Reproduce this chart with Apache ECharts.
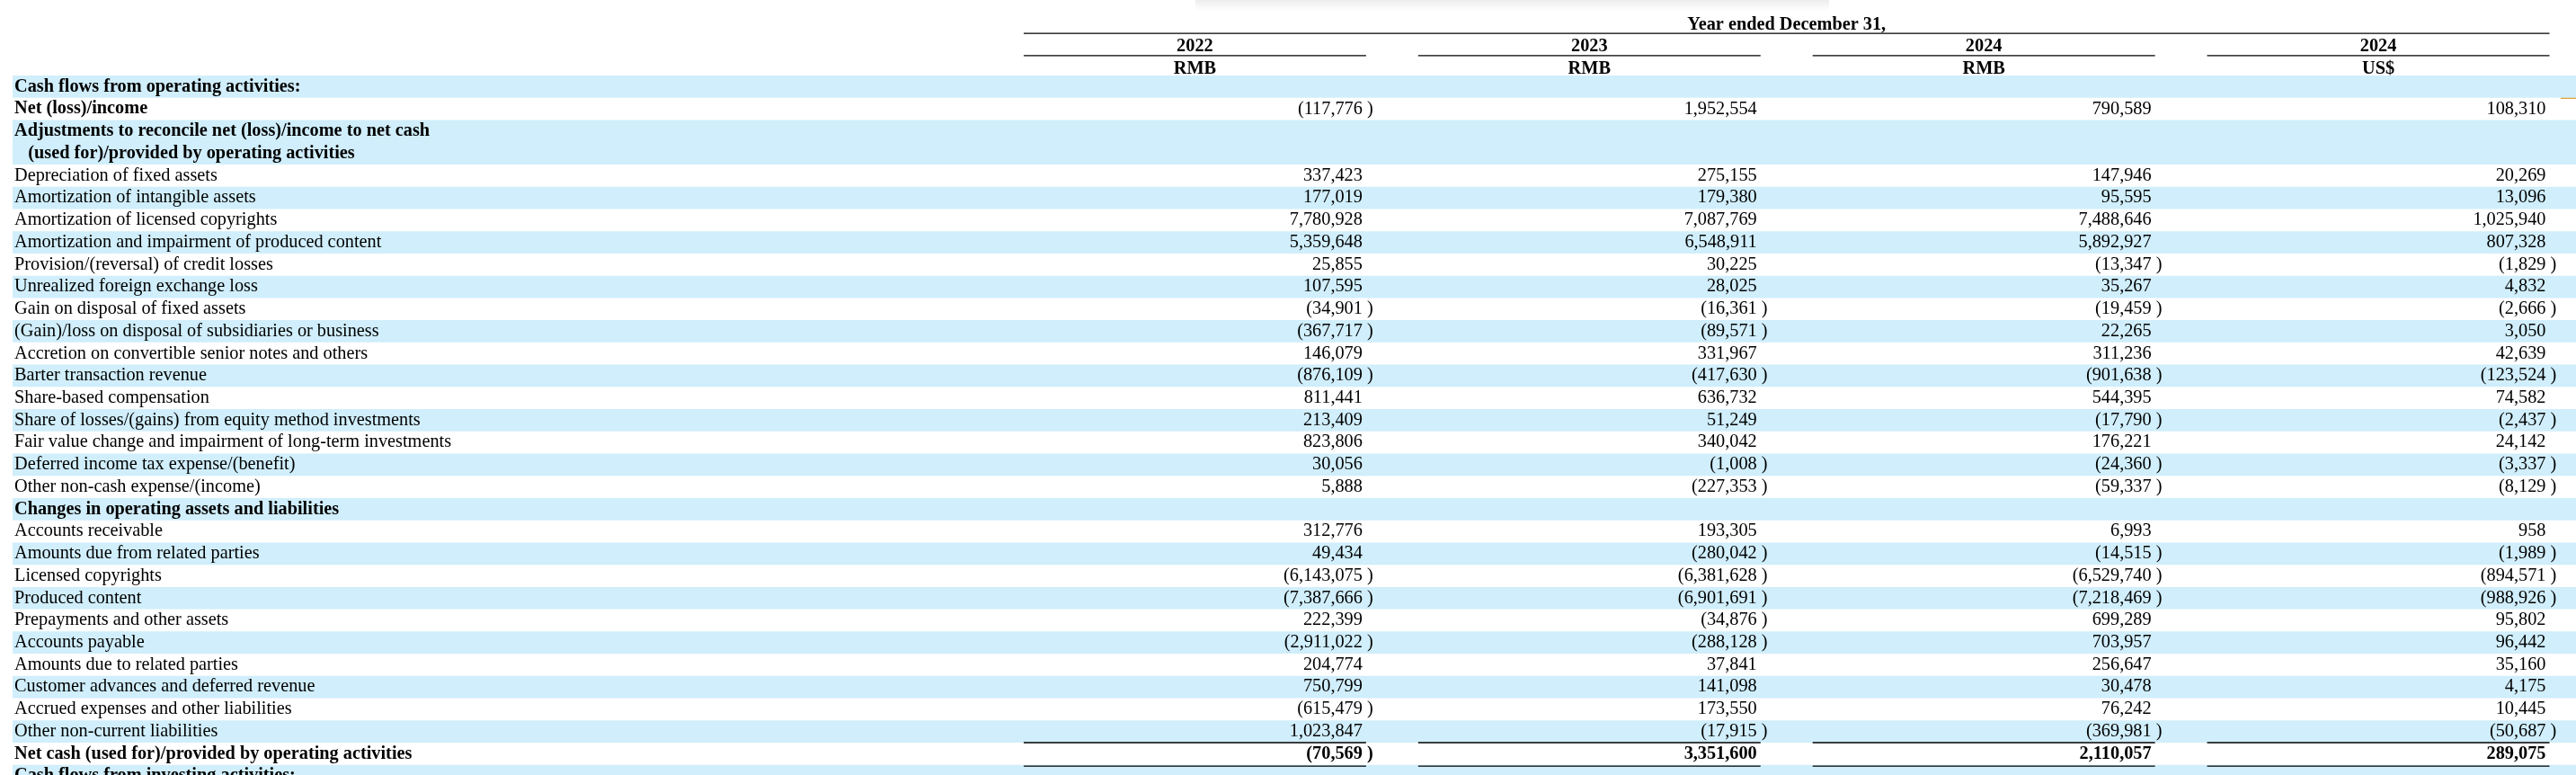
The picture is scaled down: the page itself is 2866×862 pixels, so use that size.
<!DOCTYPE html>
<html>
<head>
<meta charset="utf-8">
<title>Cash flows from operating activities</title>
<script src="https://cdn.jsdelivr.net/npm/echarts@6/dist/echarts.min.js"></script>
<style>
html, body { margin: 0; padding: 0; background: #fff; }
#main { width: 2866px; height: 862px; }
</style>
</head>
<body>
<div id="main"></div>
<script>
// table content, one entry per printed line
var rowLabels = [
	'Cash flows from operating activities:',
	'Net (loss)/income',
	'Adjustments to reconcile net (loss)/income to net cash',
	'   (used for)/provided by operating activities',
	'Depreciation of fixed assets',
	'Amortization of intangible assets',
	'Amortization of licensed copyrights',
	'Amortization and impairment of produced content',
	'Provision/(reversal) of credit losses',
	'Unrealized foreign exchange loss',
	'Gain on disposal of fixed assets',
	'(Gain)/loss on disposal of subsidiaries or business',
	'Accretion on convertible senior notes and others',
	'Barter transaction revenue',
	'Share-based compensation',
	'Share of losses/(gains) from equity method investments',
	'Fair value change and impairment of long-term investments',
	'Deferred income tax expense/(benefit)',
	'Other non-cash expense/(income)',
	'Changes in operating assets and liabilities',
	'Accounts receivable',
	'Amounts due from related parties',
	'Licensed copyrights',
	'Produced content',
	'Prepayments and other assets',
	'Accounts payable',
	'Amounts due to related parties',
	'Customer advances and deferred revenue',
	'Accrued expenses and other liabilities',
	'Other non-current liabilities',
	'Net cash (used for)/provided by operating activities',
	'Cash flows from investing activities:'
];
var boldRows = [
	'Cash flows from operating activities:',
	'Net (loss)/income',
	'Adjustments to reconcile net (loss)/income to net cash',
	'   (used for)/provided by operating activities',
	'Changes in operating assets and liabilities',
	'Net cash (used for)/provided by operating activities',
	'Cash flows from investing activities:'
];
var totalRows = [ 'Net cash (used for)/provided by operating activities' ];

var headerTitle = 'Year ended December 31,';
var columnYears = [ '2022', '2023', '2024', '2024' ];
var columnUnits = [ 'RMB', 'RMB', 'RMB', 'US$' ];

// values in thousands, negatives shown in parentheses
var rmb2022 = [ null, -117776, null, null, 337423, 177019, 7780928, 5359648, 25855, 107595,
	-34901, -367717, 146079, -876109, 811441, 213409, 823806, 30056, 5888, null,
	312776, 49434, -6143075, -7387666, 222399, -2911022, 204774, 750799, -615479, 1023847,
	-70569, null ];
var rmb2023 = [ null, 1952554, null, null, 275155, 179380, 7087769, 6548911, 30225, 28025,
	-16361, -89571, 331967, -417630, 636732, 51249, 340042, -1008, -227353, null,
	193305, -280042, -6381628, -6901691, -34876, -288128, 37841, 141098, 173550, -17915,
	3351600, null ];
var rmb2024 = [ null, 790589, null, null, 147946, 95595, 7488646, 5892927, -13347, 35267,
	-19459, 22265, 311236, -901638, 544395, -17790, 176221, -24360, -59337, null,
	6993, -14515, -6529740, -7218469, 699289, 703957, 256647, 30478, 76242, -369981,
	2110057, null ];
var usd2024 = [ null, 108310, null, null, 20269, 13096, 1025940, 807328, -1829, 4832,
	-2666, 3050, 42639, -123524, 74582, -2437, 24142, -3337, -8129, null,
	958, -1989, -894571, -988926, 95802, 96442, 35160, 4175, 10445, -50687,
	289075, null ];

var FONT = '"Liberation Serif", "Times New Roman", Times, serif';
var FONT_SIZE = 20.3;
var BAND = '#d0eefb';
var HEAD = 3; // header lines above the body rows
var LINE_RATIO = 0.868; // underline length / column width

var columns = [ rmb2022, rmb2023, rmb2024, usd2024 ];
var columnKeys = columnYears.map(function(y, i) { return y + ' ' + columnUnits[i]; });
var allRows = [ 'hdr-title', 'hdr-year', 'hdr-unit' ].concat(rowLabels);

// shaded bands, a wrapped line belongs to the row above it
var bandData = [];
var bandCount = -1;
rowLabels.forEach(function(label, i) {
	if (/^\s/.test(label)) {
		var last = bandData[bandData.length - 1];
		if (last && last[3] === bandCount) last[2] += 1;
		return;
	}
	bandCount++;
	if (bandCount % 2 === 0) bandData.push([ 0, i + HEAD, 1, bandCount ]);
});

var valueData = [];
columns.forEach(function(col, c) {
	col.forEach(function(v, r) {
		if (v !== null) valueData.push([ c, r + HEAD, v ]);
	});
});

var headerData = [ [ 0, 0 ] ];
columnYears.forEach(function(y, c) { headerData.push([ c, 1 ]); });
columnUnits.forEach(function(u, c) { headerData.push([ c, 2 ]); });

function fmt(n) {
	return Math.abs(n).toLocaleString('en-US');
}

function textEl(x, y, text, align, bold) {
	return {
		type : 'text',
		x : x,
		y : y,
		style : {
			text : text,
			align : align,
			verticalAlign : 'middle',
			fontFamily : FONT,
			fontSize : FONT_SIZE,
			fontWeight : bold ? 'bold' : 'normal',
			fill : '#000'
		}
	};
}

function lineEl(x1, x2, y) {
	return {
		type : 'line',
		shape : { x1 : x1, y1 : y, x2 : x2, y2 : y },
		style : { stroke : '#000', lineWidth : 1.3 }
	};
}

function renderBand(params, api) {
	var h = api.size([ 0, 1 ])[1];
	var y = api.coord([ 0, api.value(1) ])[1] - h / 2;
	return {
		type : 'rect',
		shape : { x : params.coordSys.x, y : y, width : params.coordSys.width, height : h * api.value(2) },
		style : { fill : BAND }
	};
}

function renderHeader(params, api) {
	var c = api.value(0), r = api.value(1);
	var size = api.size([ 1, 1 ]);
	var bw = size[0], rh = size[1];
	var p = api.coord([ c, r ]);
	var right = p[0] + bw / 2;
	var left = right - bw * LINE_RATIO;
	var ty = p[1] + 5;
	var ly = p[1] + rh / 2 + 2.5;
	if (r === 0) {
		var farRight = api.coord([ columnKeys.length - 1, r ])[0] + bw / 2;
		return { type : 'group', children : [
			textEl((left + farRight) / 2, ty, headerTitle, 'center', true),
			lineEl(left, farRight, ly)
		] };
	}
	if (r === 1) {
		return { type : 'group', children : [
			textEl((left + right) / 2, ty, columnYears[c], 'center', true),
			lineEl(left, right, ly)
		] };
	}
	return textEl((left + right) / 2, ty, columnUnits[c], 'center', true);
}

function renderValue(params, api) {
	var c = api.value(0), r = api.value(1), v = api.value(2);
	var size = api.size([ 1, 1 ]);
	var bw = size[0], rh = size[1];
	var p = api.coord([ c, r ]);
	var right = p[0] + bw / 2;
	var digitEnd = right - 4;
	var total = totalRows.indexOf(allRows[r]) >= 0;
	var children = [ textEl(digitEnd, p[1], (v < 0 ? '(' : '') + fmt(v), 'right', total) ];
	if (v < 0) children.push(textEl(digitEnd + 5, p[1], ')', 'left', total));
	if (total) {
		children.push(lineEl(right - bw * LINE_RATIO, right, p[1] - rh / 2));
		children.push(lineEl(right - bw * LINE_RATIO, right, p[1] + rh / 2 + 1.5));
	}
	return { type : 'group', children : children };
}

var ROW_H = 24.73;
var gridTop = 9.9;
var gridHeight = allRows.length * ROW_H;

option = {
	backgroundColor : '#fff',
	animation : false,
	grid : [ {
		left : 14,
		right : 0,
		top : gridTop,
		height : gridHeight,
		outerBoundsMode : 'none',
		containLabel : false
	}, {
		left : 1081,
		right : 29.5,
		top : gridTop,
		height : gridHeight,
		outerBoundsMode : 'none',
		containLabel : false
	} ],
	xAxis : [ {
		gridIndex : 0,
		type : 'value',
		min : 0,
		max : 1,
		show : false
	}, {
		gridIndex : 1,
		type : 'category',
		data : columnKeys,
		show : false
	} ],
	yAxis : [ {
		gridIndex : 0,
		type : 'category',
		inverse : true,
		data : allRows,
		z : 5,
		axisLine : { show : false },
		axisTick : { show : false },
		splitLine : { show : false },
		axisLabel : {
			inside : true,
			margin : 2,
			interval : 0,
			color : '#000',
			fontFamily : FONT,
			fontSize : FONT_SIZE,
			formatter : function(value, index) {
				if (index < HEAD) return '';
				if (boldRows.indexOf(value) >= 0) return '{b|' + value + '}';
				return value;
			},
			rich : {
				b : { fontWeight : 'bold', fontFamily : FONT, fontSize : FONT_SIZE, color : '#000' }
			}
		}
	}, {
		gridIndex : 1,
		type : 'category',
		inverse : true,
		data : allRows,
		show : false
	} ],
	graphic : [ {
		type : 'rect',
		shape : { x : 1330, y : 0, width : 705, height : 12 },
		style : {
			fill : new echarts.graphic.LinearGradient(0, 0, 0, 1, [
				{ offset : 0, color : 'rgba(0,0,0,0.07)' },
				{ offset : 1, color : 'rgba(0,0,0,0)' } ])
		},
		silent : true
	}, {
		type : 'rect',
		shape : { x : 2849, y : 107, width : 17, height : 3 },
		style : { fill : '#e3a33a' },
		silent : true
	} ],
	series : [ {
		name : 'bands',
		type : 'custom',
		xAxisIndex : 0,
		yAxisIndex : 0,
		z : 1,
		silent : true,
		renderItem : renderBand,
		data : bandData
	}, {
		name : 'header',
		type : 'custom',
		xAxisIndex : 1,
		yAxisIndex : 1,
		z : 6,
		silent : true,
		renderItem : renderHeader,
		data : headerData
	}, {
		name : 'values',
		type : 'custom',
		xAxisIndex : 1,
		yAxisIndex : 1,
		z : 6,
		silent : true,
		renderItem : renderValue,
		data : valueData
	} ]
};

myChart = echarts.init(document.getElementById('main'));
myChart.setOption(option, true);

window.onresize = function() {
	myChart.resize();
}
</script>
</body>
</html>
